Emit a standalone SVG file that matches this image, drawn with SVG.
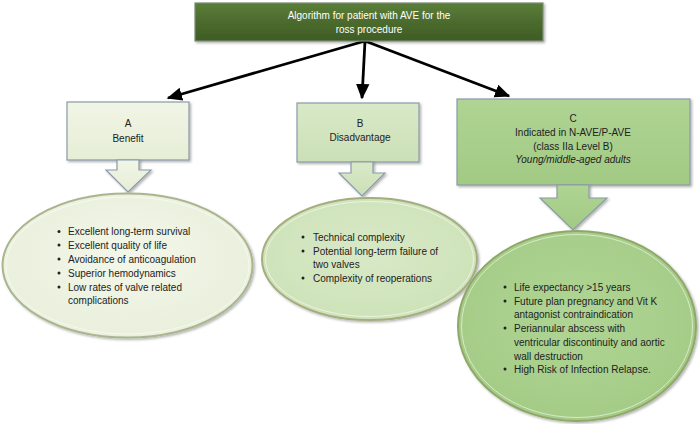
<svg xmlns="http://www.w3.org/2000/svg" width="700" height="424" viewBox="0 0 700 424">
<style>
text{font-family:"Liberation Sans",Arial,sans-serif;font-size:10px;fill:#222}
.t{fill:#fff;text-anchor:middle}
.c{text-anchor:middle}
.conn{stroke:#000;stroke-width:2.8;fill:none;marker-end:url(#ah)}
.bA{fill:url(#gA);stroke:#8a9aa8;stroke-width:1.2}
.bB{fill:url(#gB);stroke:#8a9aa8;stroke-width:1.2}
.bC{fill:url(#gC);stroke:#8a9aa8;stroke-width:1.2}
.eA{fill:url(#rA);stroke:#a9b58e;stroke-width:2}
.eB{fill:url(#rB);stroke:#a4ad7e;stroke-width:2}
.eC{fill:url(#rC);stroke:#8fa868;stroke-width:2}
.rim{fill:none;stroke:#ffffff;stroke-opacity:0.55;stroke-width:1}
.dot{fill:#222}
</style>
<defs>
<marker id="ah" markerWidth="6" markerHeight="6" refX="5" refY="3" orient="auto" markerUnits="strokeWidth"><path d="M0,0.6 L5.5,3 L0,5.4 z" fill="#000"/></marker>
<linearGradient id="gT" x1="0" y1="0" x2="0" y2="1"><stop offset="0" stop-color="#5a7e3a"/><stop offset="0.5" stop-color="#4b6b2d"/><stop offset="1" stop-color="#3e5c24"/></linearGradient>
<linearGradient id="gA" x1="0" y1="0" x2="0" y2="1"><stop offset="0" stop-color="#f1f5e6"/><stop offset="1" stop-color="#e6eed6"/></linearGradient>
<linearGradient id="gB" x1="0" y1="0" x2="0" y2="1"><stop offset="0" stop-color="#d9e9c8"/><stop offset="1" stop-color="#cbe0b6"/></linearGradient>
<linearGradient id="gC" x1="0" y1="0" x2="0" y2="1"><stop offset="0" stop-color="#afd493"/><stop offset="1" stop-color="#a2ca84"/></linearGradient>
<radialGradient id="rA" cx="0.5" cy="0.45" r="0.6"><stop offset="0" stop-color="#f3f7ea"/><stop offset="1" stop-color="#e8efda"/></radialGradient>
<radialGradient id="rB" cx="0.5" cy="0.45" r="0.6"><stop offset="0" stop-color="#d8e9c7"/><stop offset="1" stop-color="#cde2b8"/></radialGradient>
<radialGradient id="rC" cx="0.5" cy="0.45" r="0.6"><stop offset="0" stop-color="#b0d595"/><stop offset="1" stop-color="#a3cb85"/></radialGradient>
<filter id="sh" x="-10%" y="-10%" width="125%" height="130%"><feDropShadow dx="1.5" dy="1.5" stdDeviation="1" flood-color="#000" flood-opacity="0.3"/></filter>
</defs>

<g id="connectors">
<line class="conn" x1="365" y1="41" x2="168" y2="98"/>
<line class="conn" x1="365" y1="41" x2="362" y2="98"/>
<line class="conn" x1="365" y1="41" x2="509" y2="96"/>
</g>

<g id="root">
<rect x="195" y="3" width="348" height="38" fill="url(#gT)" stroke="#7d8a76" stroke-width="1.2" filter="url(#sh)"/>
<text class="t" x="369" y="18.5">Algorithm for patient with AVE for the</text>
<text class="t" x="369" y="32.5">ross procedure</text>
</g>

<g id="boxA">
<rect class="bA" x="67" y="102" width="122" height="58" filter="url(#sh)"/>
<text class="c" x="128" y="127">A</text>
<text class="c" x="128" y="141.5">Benefit</text>
</g>
<g id="arrowA">
<path class="bA" d="M117,160 H139 V170 H151 L128,192 L106,170 H117 Z" filter="url(#sh)"/>
</g>

<g id="boxB">
<rect class="bB" x="297" y="103" width="122" height="59" filter="url(#sh)"/>
<text class="c" x="360" y="127">B</text>
<text class="c" x="360" y="141">Disadvantage</text>
</g>
<g id="arrowB">
<path class="bB" d="M351,162 H373 V173 H385 L362,196 L339,173 H351 Z" filter="url(#sh)"/>
</g>

<g id="boxC">
<rect class="bC" x="457" y="99" width="233" height="86" filter="url(#sh)"/>
<text class="c" x="573" y="121.5">C</text>
<text class="c" x="573" y="135.5">Indicated in N-AVE/P-AVE</text>
<text class="c" x="573" y="150">(class IIa Level B)</text>
<text class="c" x="573" y="163" font-style="italic">Young/middle-aged adults</text>
</g>
<g id="arrowC">
<path class="bC" d="M557,185 H589 V198 H607 L573,230 L540,198 H557 Z" filter="url(#sh)"/>
</g>

<g id="ellipseA">
<ellipse class="eA" cx="127.5" cy="265.5" rx="125" ry="72" filter="url(#sh)"/>
<ellipse class="rim" cx="127.5" cy="265.5" rx="121.5" ry="68.5"/>
<circle class="dot" cx="59" cy="231.5" r="1.5"/>
<text x="68" y="235">Excellent long-term survival</text>
<circle class="dot" cx="59" cy="245" r="1.5"/>
<text x="68" y="248.5">Excellent quality of life</text>
<circle class="dot" cx="59" cy="259" r="1.5"/>
<text x="68" y="262.5">Avoidance of anticoagulation</text>
<circle class="dot" cx="59" cy="273" r="1.5"/>
<text x="68" y="276.5">Superior hemodynamics</text>
<circle class="dot" cx="59" cy="287" r="1.5"/>
<text x="68" y="290.5">Low rates of valve related</text>
<text x="68" y="304">complications</text>
</g>

<g id="ellipseB">
<ellipse class="eB" cx="369.5" cy="259" rx="107.5" ry="61" filter="url(#sh)"/>
<ellipse class="rim" cx="369.5" cy="259" rx="104" ry="57.5"/>
<circle class="dot" cx="303" cy="237" r="1.5"/>
<text x="313" y="240.5">Technical complexity</text>
<circle class="dot" cx="303" cy="251" r="1.5"/>
<text x="313" y="254.5">Potential long-term failure of</text>
<text x="313" y="268">two valves</text>
<circle class="dot" cx="303" cy="278" r="1.5"/>
<text x="313" y="281.5">Complexity of reoperations</text>
</g>

<g id="ellipseC">
<ellipse class="eC" cx="577" cy="326" rx="119" ry="95" filter="url(#sh)"/>
<ellipse class="rim" cx="577" cy="326" rx="115.5" ry="91.5"/>
<circle class="dot" cx="505" cy="287" r="1.5"/>
<text x="514" y="290.5">Life expectancy &gt;15 years</text>
<circle class="dot" cx="505" cy="301" r="1.5"/>
<text x="514" y="304.5">Future plan pregnancy and Vit K</text>
<text x="514" y="318">antagonist contraindication</text>
<circle class="dot" cx="505" cy="328" r="1.5"/>
<text x="514" y="331.5">Periannular abscess with</text>
<text x="514" y="345.5">ventricular discontinuity and aortic</text>
<text x="514" y="359.5">wall destruction</text>
<circle class="dot" cx="505" cy="369" r="1.5"/>
<text x="514" y="372.5">High Risk of Infection Relapse.</text>
</g>
</svg>
